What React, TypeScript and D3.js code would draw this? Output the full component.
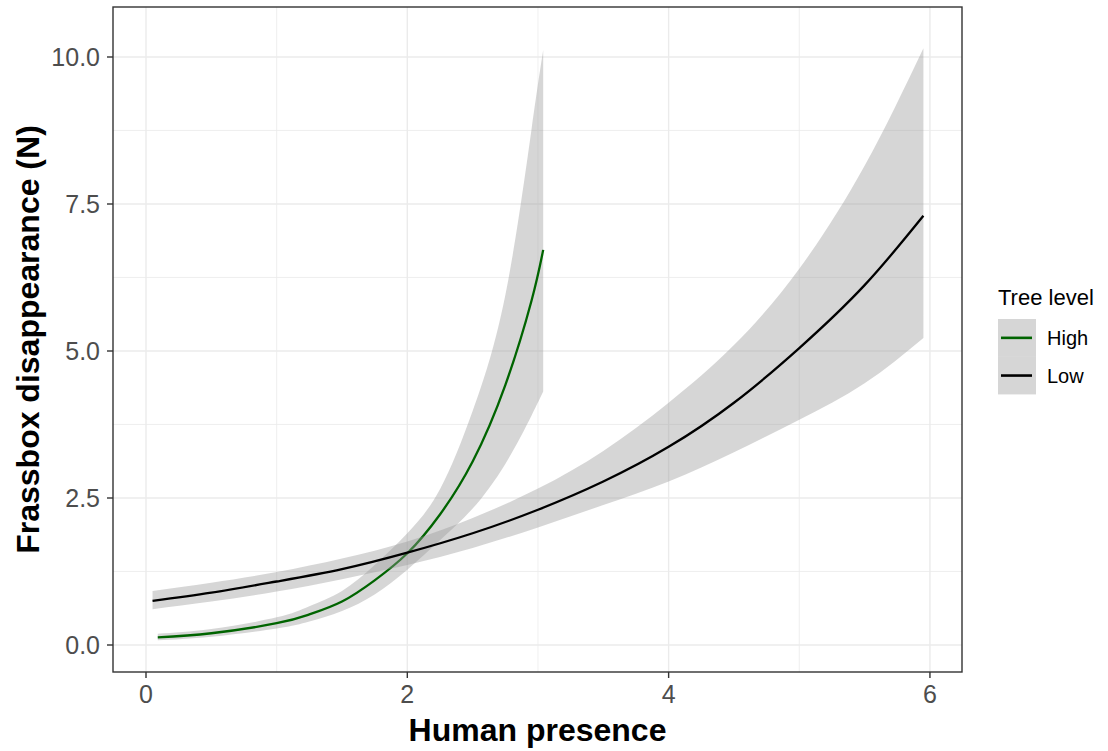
import React from "react";
import * as d3 from "d3";

// ---- data ----
const highX = [0.09, 0.5, 1.0, 1.25, 1.5, 1.75, 2.0, 2.25, 2.5, 2.75, 2.95, 3.04];
const highFit = [0.13, 0.2, 0.37, 0.52, 0.74, 1.1, 1.56, 2.22, 3.12, 4.42, 5.85, 6.72];
const highUpper = [0.19, 0.27, 0.47, 0.66, 0.92, 1.36, 1.9, 2.65, 3.98, 5.95, 8.76, 10.12];
const highLower = [0.08, 0.14, 0.28, 0.4, 0.58, 0.86, 1.28, 1.78, 2.32, 3.08, 3.9, 4.31];

const lowX = [0.05, 0.5, 1.0, 1.5, 2.0, 2.5, 3.0, 3.5, 4.0, 4.5, 5.0, 5.5, 5.95];
const lowFit = [0.75, 0.89, 1.08, 1.29, 1.57, 1.9, 2.3, 2.78, 3.37, 4.12, 5.05, 6.12, 7.3];
const lowUpper = [0.92, 1.06, 1.24, 1.47, 1.76, 2.16, 2.66, 3.3, 4.12, 5.1, 6.4, 8.15, 10.15];
const lowLower = [0.61, 0.74, 0.91, 1.12, 1.36, 1.65, 2.0, 2.38, 2.78, 3.28, 3.83, 4.45, 5.22];

const xMajorTicks = [0, 2, 4, 6];
const xMinorTicks = [1, 3, 5];
const yMajorTicks = [0, 2.5, 5, 7.5, 10];
const yMinorTicks = [1.25, 3.75, 6.25, 8.75];

const seriesNames = ["High", "Low"];
const seriesColors = ["#006400", "#000000"];

const xTitle = "Human presence";
const yTitle = "Frassbox disappearance (N)";
const legendTitle = "Tree level";

// ---- layout ----
const W = 1108;
const H = 751;
const panel = { left: 113, right: 962, top: 7, bottom: 672 };
const FONT = "'Liberation Sans', Arial, Helvetica, sans-serif";

export default function App() {
  const x = d3.scaleLinear().domain([-0.2526, 6.2454]).range([panel.left, panel.right]);
  const y = d3.scaleLinear().domain([-0.4592, 10.8503]).range([panel.bottom, panel.top]);

  const series = [
    { name: seriesNames[0], color: seriesColors[0], xs: highX, fit: highFit, lo: highLower, hi: highUpper },
    { name: seriesNames[1], color: seriesColors[1], xs: lowX, fit: lowFit, lo: lowLower, hi: lowUpper },
  ];

  const layers = series.map((s) => {
    const idx = s.xs.map((_, i) => i);
    const a = d3
      .area<number>()
      .curve(d3.curveNatural)
      .x((i) => x(s.xs[i]))
      .y0((i) => y(s.lo[i]))
      .y1((i) => y(s.hi[i]))(idx) as string;
    const l = d3
      .line<number>()
      .curve(d3.curveNatural)
      .x((i) => x(s.xs[i]))
      .y((i) => y(s.fit[i]))(idx) as string;
    return { ...s, a, l };
  });

  const legendX = 998;
  const keyTop = 319;
  const keyH = 37.7;
  const keyW = 38;

  return (
    <svg
      width={W}
      height={H}
      style={{ position: "absolute", left: 0, top: 0, background: "#fff" }}
      fontFamily={FONT}
    >
      <rect x={0} y={0} width={W} height={H} fill="#ffffff" />
      <defs>
        <clipPath id="panelClip">
          <rect x={panel.left} y={panel.top} width={panel.right - panel.left} height={panel.bottom - panel.top} />
        </clipPath>
      </defs>
      {/* grid */}
      <g>
        {xMinorTicks.map((t) => (
          <line key={"xm" + t} x1={x(t)} x2={x(t)} y1={panel.top} y2={panel.bottom} stroke="#EBEBEB" strokeWidth={0.8} />
        ))}
        {yMinorTicks.map((t) => (
          <line key={"ym" + t} x1={panel.left} x2={panel.right} y1={y(t)} y2={y(t)} stroke="#EBEBEB" strokeWidth={0.8} />
        ))}
        {xMajorTicks.map((t) => (
          <line key={"xM" + t} x1={x(t)} x2={x(t)} y1={panel.top} y2={panel.bottom} stroke="#EBEBEB" strokeWidth={1.4} />
        ))}
        {yMajorTicks.map((t) => (
          <line key={"yM" + t} x1={panel.left} x2={panel.right} y1={y(t)} y2={y(t)} stroke="#EBEBEB" strokeWidth={1.4} />
        ))}
      </g>
      {/* smooths */}
      <g clipPath="url(#panelClip)">
        {layers.map((s) => (
          <g key={s.name}>
            <path d={s.a} fill="#999999" fillOpacity={0.4} stroke="none" />
            <path d={s.l} fill="none" stroke={s.color} strokeWidth={2.3} strokeLinejoin="round" />
          </g>
        ))}
      </g>
      {/* panel border */}
      <rect
        x={panel.left}
        y={panel.top}
        width={panel.right - panel.left}
        height={panel.bottom - panel.top}
        fill="none"
        stroke="#333333"
        strokeWidth={1.4}
      />
      {/* x axis */}
      <g>
        {xMajorTicks.map((t) => (
          <g key={"xt" + t}>
            <line x1={x(t)} x2={x(t)} y1={panel.bottom} y2={panel.bottom + 6} stroke="#333333" strokeWidth={1.4} />
            <text x={x(t)} y={703} textAnchor="middle" fontSize={25} fill="#4D4D4D">
              {d3.format("d")(t)}
            </text>
          </g>
        ))}
        <text x={(panel.left + panel.right) / 2} y={741} textAnchor="middle" fontSize={32} fontWeight="bold" fill="#000">
          {xTitle}
        </text>
      </g>
      {/* y axis */}
      <g>
        {yMajorTicks.map((t) => (
          <g key={"yt" + t}>
            <line x1={panel.left - 6} x2={panel.left} y1={y(t)} y2={y(t)} stroke="#333333" strokeWidth={1.4} />
            <text x={100} y={y(t)} dy="0.36em" textAnchor="end" fontSize={25} fill="#4D4D4D">
              {d3.format(".1f")(t)}
            </text>
          </g>
        ))}
        <text
          transform={`translate(39, ${(panel.top + panel.bottom) / 2}) rotate(-90)`}
          textAnchor="middle"
          fontSize={32}
          fontWeight="bold"
          fill="#000"
        >
          {yTitle}
        </text>
      </g>
      {/* legend */}
      <g>
        <text x={legendX} y={305} fontSize={22} fill="#000">
          {legendTitle}
        </text>
        {layers.map((s, i) => {
          const cy = keyTop + keyH * i + keyH / 2;
          return (
            <g key={"lg" + s.name}>
              <rect x={legendX} y={keyTop + keyH * i} width={keyW} height={keyH} fill="#999999" fillOpacity={0.4} />
              <line x1={legendX + 3} x2={legendX + keyW - 4} y1={cy} y2={cy} stroke={s.color} strokeWidth={2.6} />
              <text x={1047} y={cy} dy="0.36em" fontSize={20} fill="#000">
                {s.name}
              </text>
            </g>
          );
        })}
      </g>
    </svg>
  );
}
